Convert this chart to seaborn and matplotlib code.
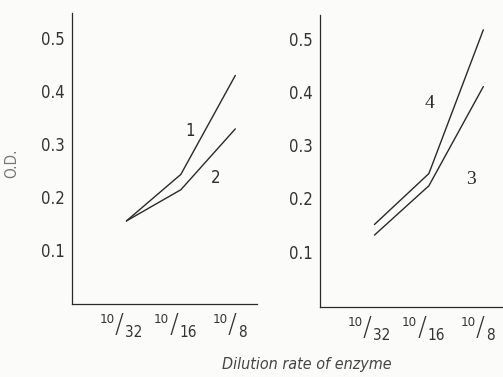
import matplotlib
matplotlib.use("Agg")
import matplotlib.pyplot as plt
import matplotlib.transforms as mtrans
import seaborn as sns
import pandas as pd

# ---- data ----
dilution_num = ["10", "10", "10"]
dilution_den = ["32", "16", "8"]
dilution_pos = [1, 2, 3]
curve1 = [0.154, 0.242, 0.429]
curve2 = [0.154, 0.213, 0.328]
curve3 = [0.131, 0.224, 0.411]
curve4 = [0.151, 0.247, 0.518]
y_ticks = [0.1, 0.2, 0.3, 0.4, 0.5]
y_ticklabels = ["0.1", "0.2", "0.3", "0.4", "0.5"]

sns.set_theme(style="white")
plt.rcParams["font.family"] = ["DejaVu Sans"]
plt.rcParams["font.stretch"] = "condensed"

ink = "#2a2a2a"
txt = "#333333"
fig = plt.figure(figsize=(5.03, 3.77), dpi=100)
fig.patch.set_facecolor("#fbfbf9")

axL = fig.add_axes([0.1431, 0.1936, 0.368, 0.7719])
axR = fig.add_axes([0.6362, 0.1865, 0.368, 0.7738])

def long(vals, name):
    return pd.DataFrame({"x": dilution_pos, "y": vals, "curve": name})

dfL = pd.concat([long(curve1, "1"), long(curve2, "2")])
dfR = pd.concat([long(curve3, "3"), long(curve4, "4")])

def frac_labels(ax):
    base = ax.get_xaxis_transform()
    for pos, num, den in zip(dilution_pos, dilution_num, dilution_den):
        sx = -7 if len(den) > 1 else -3
        t_num = mtrans.offset_copy(base, fig=fig, x=sx - 5, y=-19, units="dots")
        t_sl = mtrans.offset_copy(base, fig=fig, x=sx, y=-29, units="dots")
        t_den = mtrans.offset_copy(base, fig=fig, x=sx + 5.5, y=-33, units="dots")
        ax.text(pos, 0, num, transform=t_num, ha="right", va="baseline",
                fontsize=9.5, color=txt)
        ax.text(pos, 0, "/", transform=t_sl, ha="center", va="baseline",
                fontsize=19, color=txt, fontweight="light", fontstretch="normal")
        ax.text(pos, 0, den, transform=t_den, ha="left", va="baseline",
                fontsize=11, color=txt)

for ax, df in ((axL, dfL), (axR, dfR)):
    sns.lineplot(data=df, x="x", y="y", units="curve", estimator=None,
                 color=ink, lw=1.0, ax=ax, legend=False)
    ax.set_facecolor("none")
    ax.set_xlim(0, 3.4)
    ax.set_yticks(y_ticks)
    ax.set_yticklabels(y_ticklabels, fontsize=12, color=txt)
    ax.set_xticks(dilution_pos)
    ax.set_xticklabels([""] * len(dilution_pos))
    ax.tick_params(axis="both", direction="in", length=3, width=0.8,
                   color=ink, pad=5)
    ax.set_xlabel("")
    ax.set_ylabel("")
    sns.despine(ax=ax)
    for s in ("left", "bottom"):
        ax.spines[s].set_color(ink)
        ax.spines[s].set_linewidth(0.9)

axL.set_ylim(-0.003, 0.547)
axR.set_ylim(-0.004, 0.546)
frac_labels(axL)
frac_labels(axR)

axL.text(2.17, 0.324, "1", fontsize=12, color=ink, ha="center", va="center")
axL.text(2.64, 0.235, "2", fontsize=12, color=ink, ha="center", va="center")
axR.text(2.02, 0.379, "4", fontsize=14, color=ink, ha="center", va="center",
         family=["Liberation Serif", "DejaVu Serif"])
axR.text(2.78, 0.236, "3", fontsize=14, color=ink, ha="center", va="center",
         family=["Liberation Serif", "DejaVu Serif"])

fig.text(12 / 503, 1 - 163 / 377, "O.D.", rotation=90, fontsize=11,
         color="#777777", ha="center", va="center")
fig.text(307 / 503, 1 - 369 / 377, "Dilution rate of enzyme", fontsize=11.5,
         style="italic", color="#444444", ha="center", va="baseline")

fig.savefig("out.png", dpi=100, facecolor=fig.get_facecolor())
